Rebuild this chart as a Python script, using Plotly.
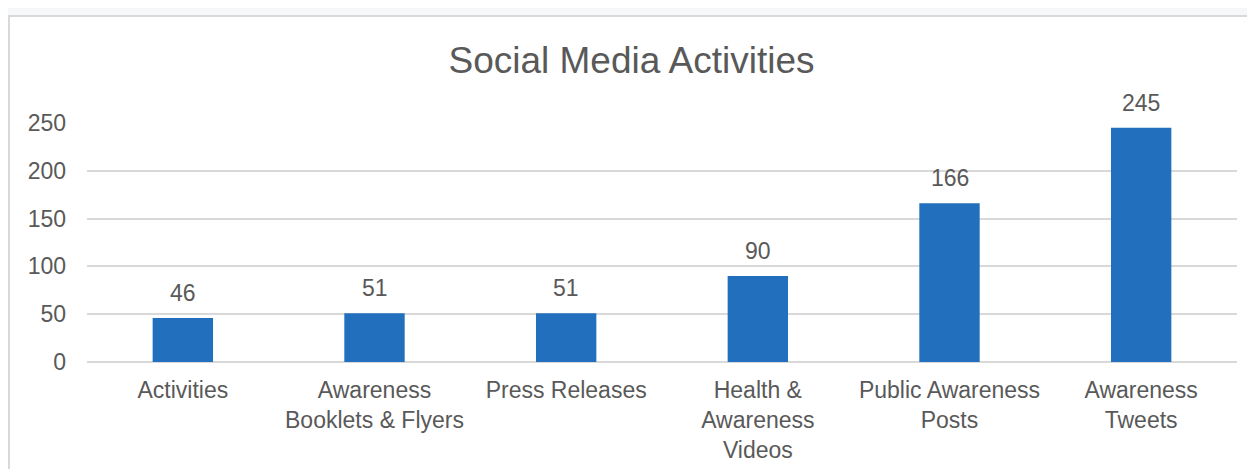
import plotly.graph_objects as go

categories = ["Activities", "Awareness<br>Booklets & Flyers", "Press Releases",
              "Health &<br>Awareness<br>Videos", "Public Awareness<br>Posts", "Awareness<br>Tweets"]
values = [46, 51, 51, 90, 166, 245]
y_ticks = [0, 50, 100, 150, 200, 250]

OFF = 8  # page body margin
W, H = 1255 - OFF, 469 - OFF
L, R, T, B = 87 - OFF, 1237 - OFF, 123 - OFF, 362 - OFF
pw, ph = R - L, B - T

def px(x):
    return (x - OFF - L) / pw

def py(y):
    return (B - (y - OFF)) / ph

fig = go.Figure()
fig.add_trace(go.Bar(x=categories, y=values, marker_color="#2270BD",
                     marker_line_width=0, width=0.315, hoverinfo="x+y"))

for c, v in zip(categories, values):
    fig.add_annotation(x=c, y=v, text=str(v), showarrow=False, yanchor="bottom",
                       yshift=10, font=dict(size=23, color="#595959"))

fig.add_shape(type="rect", xref="paper", yref="paper",
              x0=px(9), x1=px(1290), y0=py(16), y1=py(500),
              fillcolor="white", line=dict(color="#D9D9D9", width=2), layer="below")

fig.update_layout(
    width=W, height=H,
    margin=dict(l=L, r=W - R, t=T, b=H - B, pad=0, autoexpand=False),
    paper_bgcolor="#F6F7F9",
    plot_bgcolor="rgba(0,0,0,0)",
    font=dict(family="Liberation Sans, Arial, sans-serif", color="#595959", size=23),
    title=dict(text="Social Media Activities", x=0.5, xanchor="center",
               y=1 - (60 - OFF) / H, yanchor="middle", font=dict(size=37, color="#595959")),
    showlegend=False,
    bargap=0.685,
    xaxis=dict(showgrid=False, showline=False, ticks="", tickfont=dict(size=23, color="#595959"),
               zeroline=False, ticklabelstandoff=12, automargin=False),
    yaxis=dict(range=[0, 250], tickvals=y_ticks, showgrid=True, gridcolor="#D9D9D9",
               gridwidth=1.5, zeroline=True, zerolinecolor="#D9D9D9", zerolinewidth=1.5,
               showline=False, ticks="", ticklabelstandoff=20, automargin=False,
               tickfont=dict(size=23, color="#595959")),
)

fig.write_html("out.html")
